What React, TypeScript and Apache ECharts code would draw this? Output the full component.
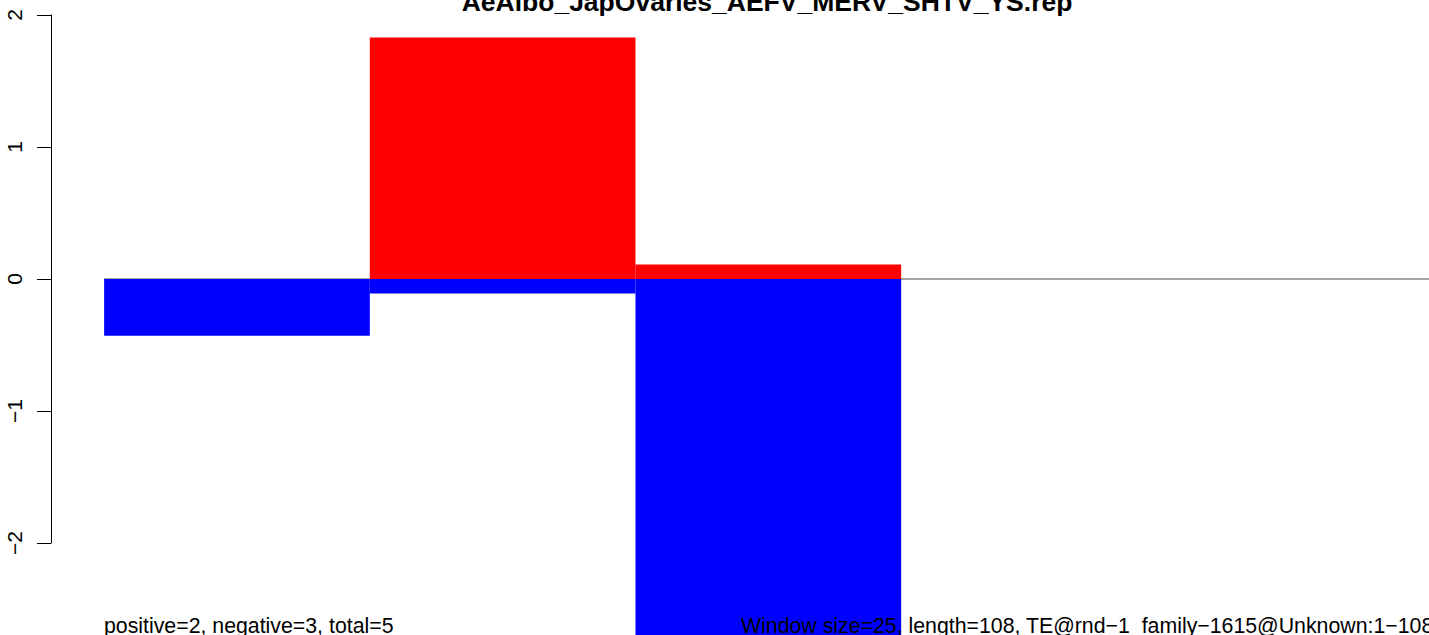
import React, { useEffect, useRef } from "react";
import * as echarts from "echarts";

const chartTitle = "AeAlbo_JapOvaries_AEFV_MERV_SHTV_YS.rep";
const windowStarts = [0, 25, 50, 75, 100];
const windowEnds = [25, 50, 75, 100, 125];
const positiveValues = [0, 1.83, 0.11, 0, 0];
const negativeValues = [-0.43, -0.11, -3.0, 0, 0];
const yTicks = [-2, -1, 0, 1, 2];
const xRange = [-5, 124.67];
const zeroLineX = [0, 125];
const summaryText = "positive=2, negative=3, total=5";
const infoText = "Window size=25, length=108, TE@rnd\u22121_family\u22121615@Unknown:1\u2212108";

const FONT = "'Liberation Sans', Arial, Helvetica, sans-serif";

function buildRects(values: number[]) {
  const out: number[][] = [];
  values.forEach((v, i) => {
    if (v !== 0) out.push([windowStarts[i], windowEnds[i], v]);
  });
  return out;
}

function rectRenderer(color: string) {
  return (_params: any, api: any) => {
    const x0 = api.value(0);
    const x1 = api.value(1);
    const v = api.value(2);
    const p0 = api.coord([x0, v]);
    const p1 = api.coord([x1, 0]);
    return {
      type: "rect",
      shape: {
        x: p0[0],
        y: Math.min(p0[1], p1[1]),
        width: p1[0] - p0[0],
        height: Math.abs(p1[1] - p0[1]),
      },
      style: { fill: color },
    };
  };
}

export default function App() {
  const ref = useRef<HTMLDivElement>(null);
  useEffect(() => {
    document.body.style.margin = "0";
    if (!ref.current) return;
    const chart = echarts.init(ref.current, null, { renderer: "svg" });
    chart.setOption({
      animation: false,
      backgroundColor: "#ffffff",
      grid: { left: 51, top: 15, right: 0, height: 528, containLabel: false },
      xAxis: { type: "value", min: xRange[0], max: xRange[1], show: false },
      yAxis: {
        type: "value",
        min: yTicks[0],
        max: yTicks[yTicks.length - 1],
        interval: 1,
        axisLine: { show: true, onZero: false, lineStyle: { color: "#000", width: 1 } },
        axisTick: { show: true, length: 14, inside: false, lineStyle: { color: "#000", width: 1 } },
        splitLine: { show: false },
        axisLabel: {
          rotate: 90,
          margin: 26,
          fontSize: 21,
          fontFamily: FONT,
          color: "#000",
          formatter: (v: number) => String(v).replace("-", "\u2212"),
        },
      },
      series: [
        {
          type: "line",
          data: [
            [zeroLineX[0], 0],
            [zeroLineX[1], 0],
          ],
          symbol: "none",
          lineStyle: { color: "#a6a6a6", width: 2 },
          clip: false,
          z: 1,
          silent: true,
        },
        {
          type: "custom",
          data: buildRects(positiveValues),
          renderItem: rectRenderer("#ff0000"),
          clip: false,
          z: 2,
        },
        {
          type: "custom",
          data: buildRects(negativeValues),
          renderItem: rectRenderer("#0000ff"),
          clip: false,
          z: 2,
        },
      ],
      graphic: [
        {
          type: "text",
          x: 767,
          y: 1.5,
          z: 100,
          style: {
            text: chartTitle,
            font: `bold 26.5px ${FONT}`,
            fill: "#000",
            textAlign: "center",
            textVerticalAlign: "middle",
          },
        },
        {
          type: "text",
          x: 104,
          y: 626,
          z: 100,
          style: {
            text: summaryText,
            font: `21.3px ${FONT}`,
            fill: "#000",
            textAlign: "left",
            textVerticalAlign: "middle",
          },
        },
        {
          type: "text",
          x: 741,
          y: 626,
          z: 100,
          style: {
            text: infoText,
            font: `21.3px ${FONT}`,
            fill: "#000",
            textAlign: "left",
            textVerticalAlign: "middle",
          },
        },
      ],
    });
    return () => chart.dispose();
  }, []);
  return <div ref={ref} style={{ width: 1429, height: 635 }} />;
}
